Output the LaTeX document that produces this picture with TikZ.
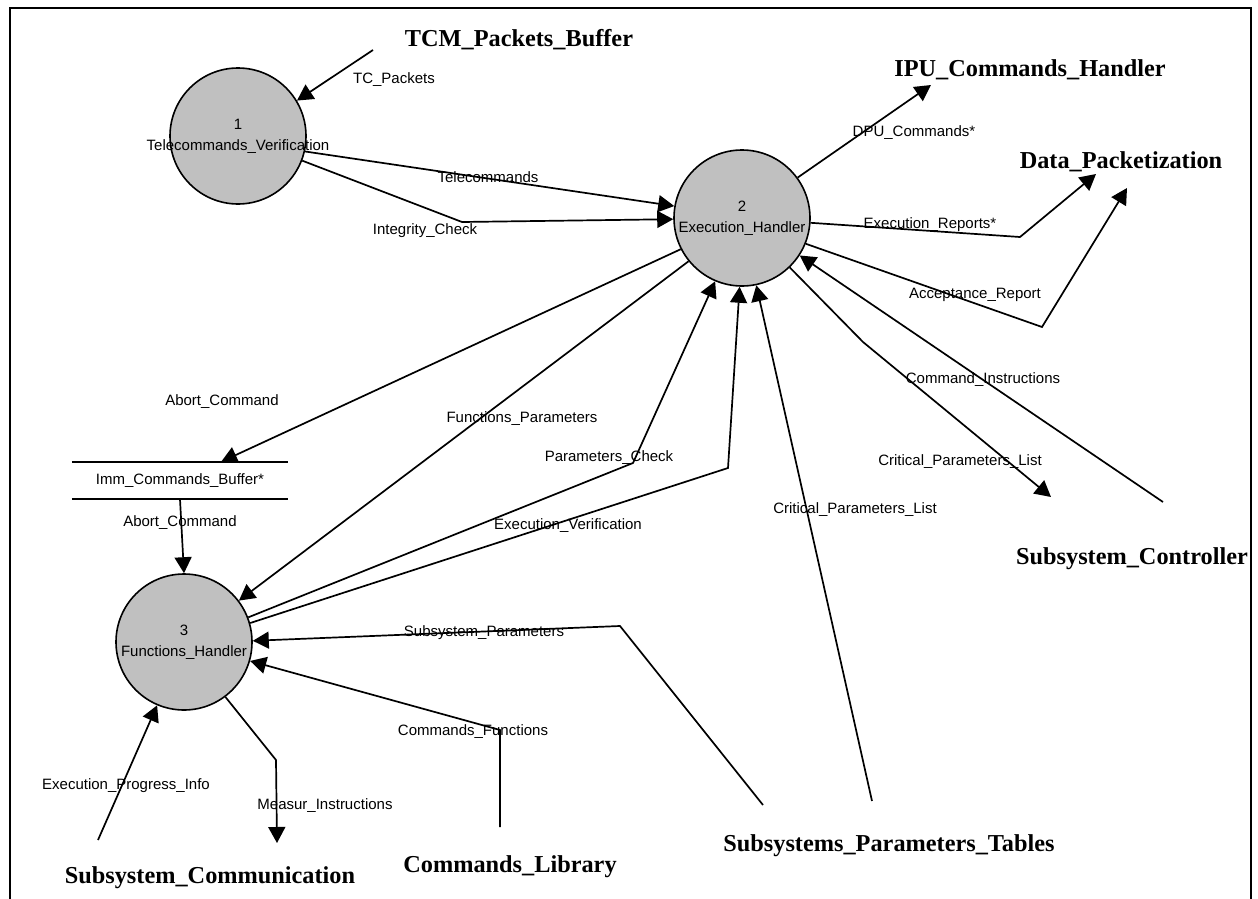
\documentclass[tikz,border=0pt]{standalone}
\usepackage{fontspec}
\setmainfont{Liberation Serif}
\newfontfamily\lab{Liberation Sans}
\usetikzlibrary{arrows.meta,calc}
\definecolor{procgray}{RGB}{192,192,192}
\tikzset{
  proc/.style={circle, draw, line width=1.6pt, fill=procgray, minimum size=136pt, inner sep=0pt},
  proctext/.style={align=center, inner sep=0pt, font=\lab\fontsize{15}{21}\selectfont},
  ext/.style={inner sep=0pt, font=\bfseries\fontsize{24.3}{28}\selectfont},
  lbl/.style={inner sep=0pt, font=\lab\fontsize{15}{17}\selectfont},
  flow/.style={line width=1.7pt, -{Triangle[length=16pt,width=17pt]}},
}
\begin{document}
\begin{tikzpicture}[x=1pt,y=-1pt]
\useasboundingbox (0,0) rectangle (1258,899);
% page frame
\draw[line width=1.8pt] (10,899) -- (10,8) -- (1251,8) -- (1251,899);

% processes
\node[proc] (p1) at (238,136) {};
\node[proctext] (p1t) at (p1) {1\\Telecommands\_Verification};
\node[proc] (p2) at (742,218) {};
\node[proctext] (p2t) at (p2) {2\\Execution\_Handler};
\node[proc] (p3) at (184,642) {};
\node[proctext] (p3t) at (p3) {3\\Functions\_Handler};

% data store
\node[lbl, minimum width=216pt, minimum height=37pt] (store) at (180,480.5) {Imm\_Commands\_Buffer*};
\draw[line width=1.6pt] (store.north west) -- (store.north east)
                        (store.south west) -- (store.south east);

% external entities
\node[ext] (tcm) at (519,40) {TCM\_Packets\_Buffer};
\node[ext] (ipu) at (1030,70) {IPU\_Commands\_Handler};
\node[ext] (dpk) at (1121,162) {Data\_Packetization};
\node[ext] (ctl) at (1132,559) {Subsystem\_Controller};
\node[ext] (com) at (210,878) {Subsystem\_Communication};
\node[ext] (lib) at (510,867) {Commands\_Library};
\node[ext] (spt) at (889,846) {Subsystems\_Parameters\_Tables};

% connector ends and bends
\coordinate (tcmO) at (373,50);
\coordinate (ipuI) at (931,85);
\coordinate (dpkI1) at (1096,174);
\coordinate (dpkI2) at (1127,188);
\coordinate (ctlO) at (1163,502);
\coordinate (ctlI) at (1051,497);
\coordinate (sptO1) at (872,801);
\coordinate (sptO2) at (763,805);
\coordinate (libO) at (500,827);
\coordinate (comO) at (98,840);
\coordinate (comI) at (277,843);
\coordinate (storeI) at ($(store.north west)!0.69!(store.north east)$);
\coordinate (bInt) at (462,222);
\coordinate (bEr) at (1020,237);
\coordinate (bAr) at (1042,327);
\coordinate (bCpl) at (863,342);
\coordinate (bEv) at (728,468);
\coordinate (bPc) at (633,463);
\coordinate (bSp) at (620,626);
\coordinate (bCf) at (500,730);
\coordinate (bMi) at (276,760);

% flows
\draw[flow] (tcmO) -- (p1.31);
\draw[flow] (p1.-13) -- (p2.170);
\draw[flow] (p1.-21) -- (bInt) -- (p2.181);
\draw[flow] (p2.36) -- (ipuI);
\draw[flow] (p2.-4) -- (bEr) -- (dpkI1);
\draw[flow] (p2.-22) -- (bAr) -- (dpkI2);
\draw[flow] (ctlO) -- (p2.-33);
\draw[flow] (p2.-46) -- (bCpl) -- (ctlI);
\draw[flow] (sptO1) -- (p2.-78);
\draw[flow] (p3.16) -- (bEv) -- (p2.268);
\draw[flow] (p3.21) -- (bPc) -- (p2.-113);
\draw[flow] (p2.219) -- (p3.37);
\draw[flow] (p2.207) -- (storeI);
\draw[flow] (store.south) -- (p3.north);
\draw[flow] (sptO2) -- (bSp) -- (p3.1);
\draw[flow] (libO) -- (bCf) -- (p3.-16);
\draw[flow] (comO) -- (p3.-113);
\draw[flow] (p3.-53) -- (bMi) -- (comI);

% flow labels
\node[lbl] (lTc) at (394,80) {TC\_Packets};
\node[lbl] (lTel) at (488,177) {Telecommands};
\node[lbl] (lInt) at (425,231) {Integrity\_Check};
\node[lbl] (lDpu) at (914,133) {DPU\_Commands*};
\node[lbl] (lEr) at (930,225) {Execution\_Reports*};
\node[lbl] (lAr) at (975,295) {Acceptance\_Report};
\node[lbl] (lCi) at (983,380) {Command\_Instructions};
\node[lbl] (lCpl1) at (960,462) {Critical\_Parameters\_List};
\node[lbl] (lCpl2) at (855,510) {Critical\_Parameters\_List};
\node[lbl] (lFp) at (522,419) {Functions\_Parameters};
\node[lbl] (lPc) at (609,458) {Parameters\_Check};
\node[lbl] (lEv) at (568,526) {Execution\_Verification};
\node[lbl] (lAb1) at (222,402) {Abort\_Command};
\node[lbl] (lAb2) at (180,523) {Abort\_Command};
\node[lbl] (lSp) at (484,633) {Subsystem\_Parameters};
\node[lbl] (lCf) at (473,732) {Commands\_Functions};
\node[lbl] (lEp) at (126,786) {Execution\_Progress\_Info};
\node[lbl] (lMi) at (325,806) {Measur\_Instructions};
\end{tikzpicture}
\end{document}
